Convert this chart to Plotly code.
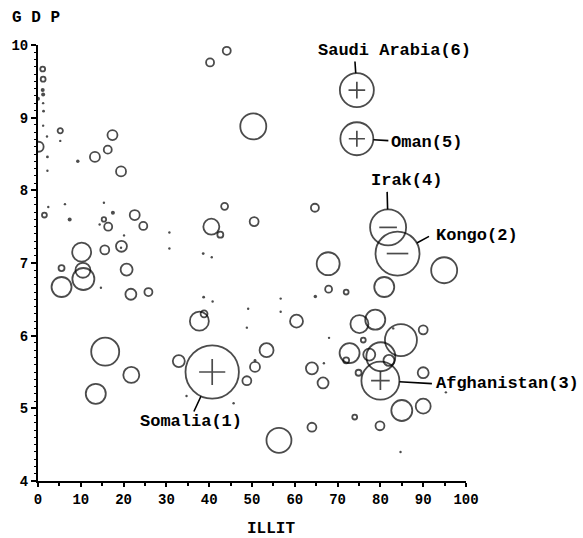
import plotly.graph_objects as go

# Bubble chart: ILLIT (illiteracy %) vs GDP, bubble area ~ pop
illit = [1.1, 1.2, 1.1, 1.2, 0.0, 1.2, 1.3, 1.2, 2.1, 5.2, 5.2, 0.15, 2.2, 2.2, 9.3,
         13.3, 16.3, 17.4, 19.4, 2.4, 1.5, 6.3, 7.4, 15.4, 17.5, 15.4, 14.4, 16.4, 22.6,
         24.6, 20.1, 19.5, 19.4, 15.6, 10.2, 30.7, 30.7, 38.6, 40.6, 40.2, 44.1, 50.3,
         40.5, 42.6, 43.6, 50.5, 64.7, 67.8, 94.9, 5.5, 10.5, 10.6, 5.5, 14.7, 20.7,
         21.7, 25.8, 38.7, 40.8, 49.1, 56.7, 56.7, 48.8, 37.7, 38.8, 60.4, 15.7, 32.9,
         40.7, 53.4, 50.7, 50.7, 48.8, 21.8, 13.5, 34.7, 45.7, 56.3, 67.9, 64.8, 74.5,
         74.5, 81.8, 84.0, 80.9, 72.0, 68.0, 75.1, 78.8, 84.8, 90.0, 76.0, 72.8, 72.0,
         80.1, 77.4, 82.0, 64.0, 66.8, 66.6, 74.9, 80.0, 90.0, 95.3, 85.0, 90.0, 74.0,
         79.9, 64.0, 84.7, 83.0]
gdp = [9.67, 9.53, 9.38, 9.32, 9.26, 9.20, 9.09, 8.89, 8.74, 8.82, 8.68, 8.60, 8.46, 8.27, 8.40,
       8.46, 8.56, 8.76, 8.26, 7.77, 7.66, 7.81, 7.60, 7.83, 7.69, 7.60, 7.53, 7.50, 7.66,
       7.51, 7.38, 7.23, 7.21, 7.18, 7.15, 7.42, 7.20, 7.13, 7.08, 9.76, 9.92, 8.88,
       7.50, 7.39, 7.78, 7.57, 7.76, 6.99, 6.90, 6.93, 6.90, 6.78, 6.67, 6.66, 6.91,
       6.57, 6.60, 6.53, 6.47, 6.37, 6.51, 6.33, 6.11, 6.20, 6.30, 6.20, 5.78, 5.65,
       5.50, 5.80, 5.57, 5.66, 5.38, 5.46, 5.20, 5.17, 5.07, 4.56, 6.64, 6.54, 9.38,
       8.71, 7.49, 7.13, 6.67, 6.60, 5.97, 6.16, 6.22, 5.94, 6.08, 5.94, 5.76, 5.66,
       5.71, 5.74, 5.66, 5.55, 5.62, 5.35, 5.49, 5.38, 5.49, 5.22, 4.97, 5.03, 4.88,
       4.76, 4.74, 4.40, 6.10]
pop = [6, 6, 4, 4, 4, 1, 2, 1, 1, 7, 1, 25, 2, 1, 3,
       25, 16, 25, 25, 1, 6, 1, 4, 1, 4, 5, 1, 16, 25,
       16, 1, 30, 1, 20, 90, 1, 1, 2, 1, 16, 16, 169,
       64, 9, 12, 20, 16, 132, 169, 9, 56, 121, 100, 1, 36,
       30, 16, 2, 1, 1, 1, 1, 1, 90, 12, 42, 196, 36,
       713, 49, 25, 2, 20, 64, 100, 1, 1, 156, 12, 3, 289,
       272, 324, 484, 100, 6, 1, 81, 100, 256, 20, 6, 100, 9,
       210, 36, 30, 36, 1, 30, 9, 361, 30, 1, 110, 56, 6,
       20, 20, 1, 1]

# labelled countries
lab_name = ["Somalia(1)", "Kongo(2)", "Afghanistan(3)", "Irak(4)", "Oman(5)", "Saudi Arabia(6)"]
lab_x = [40.7, 84.0, 80.0, 81.8, 74.5, 74.5]
lab_y = [5.50, 7.13, 5.38, 7.49, 8.71, 9.38]
lab_pop = [713, 484, 361, 324, 272, 289]
lab_sign = ["+", "-", "+", "-", "+", "+"]

x_ticks = [0, 10, 20, 30, 40, 50, 60, 70, 80, 90, 100]
y_ticks = [4, 5, 6, 7, 8, 9, 10]

SIZEREF = 0.5  # area mode: radius = sqrt(pop / (2*sizeref)) = sqrt(pop)
DOT_LIMIT = 4

cx = [a for a, p in zip(illit, pop) if p > DOT_LIMIT]
cy = [b for b, p in zip(gdp, pop) if p > DOT_LIMIT]
cs = [p for p in pop if p > DOT_LIMIT]
dx = [a for a, p in zip(illit, pop) if p <= DOT_LIMIT]
dy = [b for b, p in zip(gdp, pop) if p <= DOT_LIMIT]
ds = [p for p in pop if p <= DOT_LIMIT]

fig = go.Figure()
fig.add_trace(go.Scatter(
    x=cx, y=cy, mode="markers",
    marker=dict(size=cs, sizemode="area", sizeref=SIZEREF, sizemin=1,
                color="rgba(0,0,0,0)", line=dict(color="black", width=1.8)),
    hoverinfo="skip", showlegend=False))
fig.add_trace(go.Scatter(
    x=dx, y=dy, mode="markers",
    marker=dict(size=ds, sizemode="area", sizeref=SIZEREF, sizemin=1.2,
                color="black", line=dict(width=0)),
    hoverinfo="skip", showlegend=False))

# plus / minus signs inside labelled bubbles
sym = ["cross-thin" if s == "+" else "line-ew" for s in lab_sign]
sym_size = [0.7 * (p ** 0.5) for p in lab_pop]
fig.add_trace(go.Scatter(
    x=lab_x, y=lab_y, mode="markers",
    marker=dict(symbol=sym, size=sym_size, color="black",
                line=dict(color="black", width=1.7)),
    hoverinfo="skip", showlegend=False))

# label text offsets (px) and leader line tails (px)
text_off = {"Somalia(1)": (-21, -49), "Kongo(2)": (79, 18), "Afghanistan(3)": (127, -3),
            "Irak(4)": (18, 47), "Oman(5)": (70, -4), "Saudi Arabia(6)": (38, 40)}
tail_off = {"Somalia(1)": (-19, 41), "Kongo(2)": (33, -18), "Afghanistan(3)": (53, 3),
            "Irak(4)": (-1, -37), "Oman(5)": (33, 2), "Saudi Arabia(6)": (-2, -30)}

lab_font = dict(family="Liberation Mono", size=17, color="black", weight="bold")
for n, x, y, p in zip(lab_name, lab_x, lab_y, lab_pop):
    tx, ty = text_off[n]
    fig.add_annotation(x=x, y=y, text=n, showarrow=False, xshift=tx, yshift=ty,
                       font=lab_font, xanchor="center", yanchor="middle")
    ax, ay = tail_off[n]
    fig.add_annotation(x=x, y=y, text="", showarrow=True, ax=ax, ay=ay,
                       axref="pixel", ayref="pixel", arrowhead=0, arrowwidth=1.6,
                       arrowcolor="black", standoff=(p ** 0.5))

title_font = dict(family="Liberation Mono", size=16, color="black", weight="bold")
fig.add_annotation(xref="paper", yref="paper", x=0, y=1, xshift=-2, yshift=27,
                   text="G D P", showarrow=False, font=title_font,
                   xanchor="center", yanchor="middle")
fig.add_annotation(xref="paper", yref="paper", x=0.544, y=0, yshift=-48,
                   text="ILLIT", showarrow=False, font=title_font,
                   xanchor="center", yanchor="middle")

tick_font = dict(family="Liberation Mono", size=14, color="black", weight="bold")
fig.update_xaxes(range=[0, 100], tickvals=x_ticks, ticks="outside", ticklen=4, tickwidth=1.5,
                 tickcolor="black", showline=True, linecolor="black", linewidth=2,
                 showgrid=False, zeroline=False,
                 minor=dict(dtick=5, ticks="outside", ticklen=3, tickwidth=1.5, tickcolor="black"),
                 tickfont=tick_font)
fig.update_yaxes(range=[4, 10], tickvals=y_ticks, ticks="outside", ticklen=5, tickwidth=1.5,
                 tickcolor="black", showline=True, linecolor="black", linewidth=2,
                 showgrid=False, zeroline=False,
                 minor=dict(dtick=0.1, ticks="outside", ticklen=2, tickwidth=1, tickcolor="black"),
                 tickfont=tick_font)

fig.update_layout(width=583, height=538, margin=dict(l=38, r=117, t=45, b=57),
                  plot_bgcolor="white", paper_bgcolor="white")

fig.write_html("out.html", config={"displayModeBar": False},
               post_script="document.body.style.margin='0';")
